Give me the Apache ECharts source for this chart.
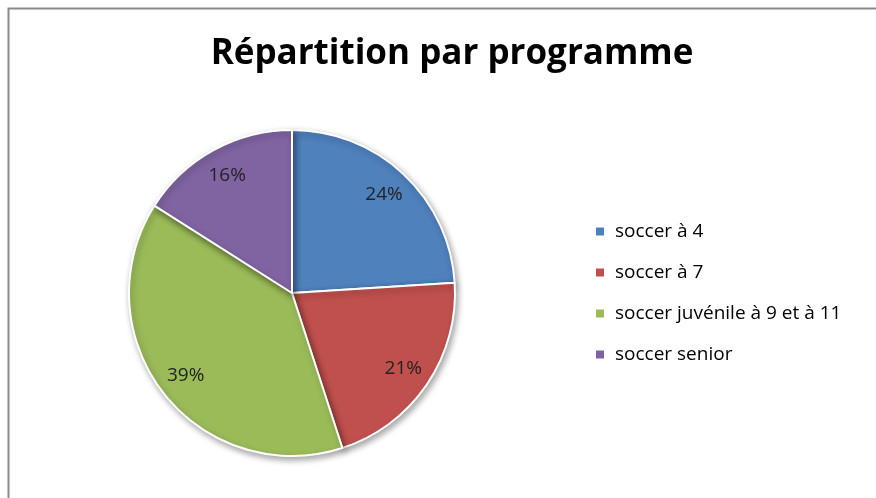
<!DOCTYPE html>
<html>
<head>
<meta charset="utf-8">
<script src="https://cdn.jsdelivr.net/npm/echarts@6/dist/echarts.min.js"></script>
<style>
  html, body { margin: 0; padding: 0; background: #fff; }
  #chart { width: 876px; height: 498px; }
</style>
</head>
<body>
<div id="chart"></div>
<script>
const categories = ["soccer à 4", "soccer à 7", "soccer juvénile à 9 et à 11", "soccer senior"];
const shares = [24, 21, 39, 16];
const colors = ["#4F81BD", "#C0504D", "#9BBB59", "#8064A2"];

const chart = echarts.init(document.getElementById("chart"));

const slices = categories.map((name, i) => ({
  name: name,
  value: shares[i],
  itemStyle: { color: colors[i] }
}));

chart.setOption({
  backgroundColor: "#fff",
  animation: false,
  graphic: [
    {
      // cadre gris du graphique
      type: "rect",
      shape: { x: 8.5, y: 8.5, width: 900, height: 600 },
      style: { fill: "none", stroke: "#8a8a8a", lineWidth: 2 },
      silent: true
    }
  ],
  title: {
    text: "Répartition par programme",
    left: 447,
    textAlign: "center",
    top: 32,
    textStyle: {
      fontFamily: "Open Sans",
      fontWeight: "bold",
      fontSize: 35,
      color: "#000"
    }
  },
  legend: {
    orient: "vertical",
    left: 589,
    top: 217,
    itemWidth: 10,
    itemHeight: 10,
    itemGap: 22,
    icon: "rect",
    textStyle: {
      fontFamily: "Open Sans",
      fontSize: 19,
      color: "#000",
      padding: [0, 0, 0, 5]
    },
    data: categories
  },
  series: [
    {
      type: "pie",
      center: [292, 293],
      radius: [0, 163],
      startAngle: 90,
      clockwise: true,
      label: { show: false },
      labelLine: { show: false },
      itemStyle: {
        borderColor: "#fff",
        borderWidth: 2,
        shadowBlur: 6,
        shadowOffsetX: 2,
        shadowOffsetY: 3,
        shadowColor: "rgba(0,0,0,0.35)"
      },
      emphasis: { disabled: true },
      data: slices
    },
    {
      // couche invisible pour placer les pourcentages
      type: "pie",
      center: [292, 293],
      radius: [100, 163],
      startAngle: 90,
      clockwise: true,
      silent: true,
      legendHoverLink: false,
      itemStyle: { color: "rgba(0,0,0,0)", borderWidth: 0 },
      label: {
        show: true,
        position: "inside",
        formatter: "{c}%",
        fontFamily: "Open Sans",
        fontSize: 19,
        color: "#222"
      },
      labelLine: { show: false },
      emphasis: { disabled: true },
      data: categories.map((name, i) => ({ name: name + " ", value: shares[i] }))
    }
  ]
});
</script>
</body>
</html>
